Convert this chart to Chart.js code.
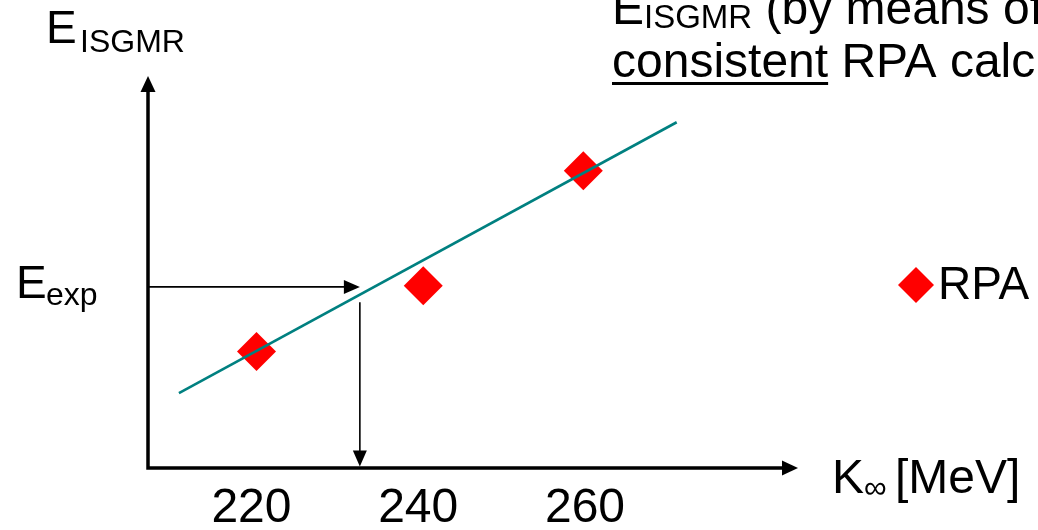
<!DOCTYPE html>
<html>
<head>
<meta charset="utf-8">
<script src="https://cdn.jsdelivr.net/npm/chart.js@4.4.1/dist/chart.umd.min.js"></script>
<style>
  html, body { margin: 0; padding: 0; background: #fff; overflow: hidden; }
  canvas { display: block; }
</style>
</head>
<body>
<canvas id="c" width="1038" height="530"></canvas>
<script>
// RPA results: incompressibility K∞ [MeV] vs. monopole energy (arbitrary units)
const kValues = [220.6, 240.6, 259.8];
const eValues = [2.97, 4.65, 7.58];

// straight-line fit through the RPA points
const fitK = [211.3, 271.0];
const fitE = [1.91, 8.82];

// tick labels on the K∞ axis
const kTicks = [220, 240, 260];

// experimental energy and the K∞ it maps to
const eExp = 4.62;
const kFromExp = 233.0;
const eDropStart = 4.23;

const FONT = '"Liberation Sans", Arial, Helvetica, sans-serif';

function arrowHead(ctx, tx, ty, dx, dy, len, half) {
  const bx = tx - dx * len, by = ty - dy * len;
  ctx.beginPath();
  ctx.moveTo(tx, ty);
  ctx.lineTo(bx - dy * half, by + dx * half);
  ctx.lineTo(bx + dy * half, by - dx * half);
  ctx.closePath();
  ctx.fill();
}

function text(ctx, s, x, y, size) {
  ctx.font = size + 'px ' + FONT;
  ctx.fillText(s, x, y);
  return ctx.measureText(s).width;
}

const decorations = {
  id: 'decorations',
  beforeDatasetsDraw(chart) {
    const { ctx, chartArea: a, scales: { x, y } } = chart;
    ctx.save();
    ctx.fillStyle = '#000';
    ctx.strokeStyle = '#000';

    // axes with arrowheads
    ctx.lineWidth = 3.5;
    ctx.beginPath();
    ctx.moveTo(a.left, a.bottom + 1.75);
    ctx.lineTo(a.left, a.top + 14);
    ctx.moveTo(a.left - 1.75, a.bottom);
    ctx.lineTo(a.right - 14, a.bottom);
    ctx.stroke();
    arrowHead(ctx, a.left, a.top, 0, -1, 16, 7.5);
    arrowHead(ctx, a.right, a.bottom, 1, 0, 16, 7.5);

    // E_exp -> line -> K∞ construction
    const yE = y.getPixelForValue(eExp);
    const xK = x.getPixelForValue(kFromExp);
    ctx.lineWidth = 1.6;
    ctx.beginPath();
    ctx.moveTo(a.left, yE);
    ctx.lineTo(xK - 12, yE);
    ctx.moveTo(xK, y.getPixelForValue(eDropStart));
    ctx.lineTo(xK, a.bottom - 12);
    ctx.stroke();
    arrowHead(ctx, xK, yE, 1, 0, 16, 7);
    arrowHead(ctx, xK, a.bottom - 1.5, 0, 1, 16, 7);
    ctx.restore();
  },
  afterDraw(chart) {
    const { ctx } = chart;
    ctx.save();
    ctx.fillStyle = '#000';
    ctx.textAlign = 'left';
    ctx.textBaseline = 'alphabetic';

    // vertical axis title
    text(ctx, 'E', 46, 43, 46);
    text(ctx, 'ISGMR', 80, 52, 32);

    // E_exp label
    text(ctx, 'E', 16, 298, 46);
    text(ctx, 'exp', 46, 305, 32);

    // horizontal axis title
    let w = text(ctx, 'K', 832, 493, 48);
    text(ctx, '\u221E', 832 + w, 498, 32);
    text(ctx, '[MeV]', 895, 493, 48);

    // heading (runs past the right edge)
    w = text(ctx, 'E', 612, 24, 48);
    let w2 = text(ctx, 'ISGMR', 612 + w, 28, 33);
    text(ctx, ' (by means of self-', 612 + w + w2, 24, 48);
    const wc = text(ctx, 'consistent', 612, 77, 48);
    const ws = text(ctx, ' ', 612 + wc, 77, 48);
    text(ctx, 'RPA calculations)', 612 + wc + ws, 77, 48);
    ctx.fillRect(612, 82, wc, 3);

    // legend
    ctx.fillStyle = '#ff0000';
    ctx.beginPath();
    ctx.moveTo(916, 285 - 18);
    ctx.lineTo(916 + 18, 285);
    ctx.lineTo(916, 285 + 18);
    ctx.lineTo(916 - 18, 285);
    ctx.closePath();
    ctx.fill();
    ctx.fillStyle = '#000';
    text(ctx, 'RPA', 938, 299, 46);
    ctx.restore();
  }
};

new Chart(document.getElementById('c'), {
  type: 'scatter',
  data: {
    datasets: [
      {
        label: 'fit',
        type: 'line',
        data: fitK.map((k, i) => ({ x: k, y: fitE[i] })),
        borderColor: '#008080',
        borderWidth: 2.6,
        pointRadius: 0,
        fill: false,
        order: 1
      },
      {
        label: 'RPA',
        data: kValues.map((k, i) => ({ x: k, y: eValues[i] })),
        pointStyle: 'rectRot',
        pointRadius: 19.5,
        pointHoverRadius: 19.5,
        backgroundColor: '#ff0000',
        borderWidth: 0,
        order: 2
      }
    ]
  },
  options: {
    responsive: false,
    animation: false,
    events: [],
    layout: { padding: { left: 148, right: 240, top: 76, bottom: 0 } },
    plugins: { legend: { display: false }, tooltip: { enabled: false } },
    scales: {
      x: {
        type: 'linear',
        min: 207.59,
        max: 285.55,
        grid: { display: false, drawTicks: false },
        border: { display: false },
        afterBuildTicks: s => { s.ticks = kTicks.map(v => ({ value: v })); },
        afterFit: s => { s.height = 62; },
        ticks: {
          color: '#000',
          padding: 12,
          maxRotation: 0,
          font: { family: FONT, size: 48 }
        }
      },
      y: {
        type: 'linear',
        min: 0,
        max: 10,
        display: false
      }
    }
  },
  plugins: [decorations]
});
</script>
</body>
</html>
